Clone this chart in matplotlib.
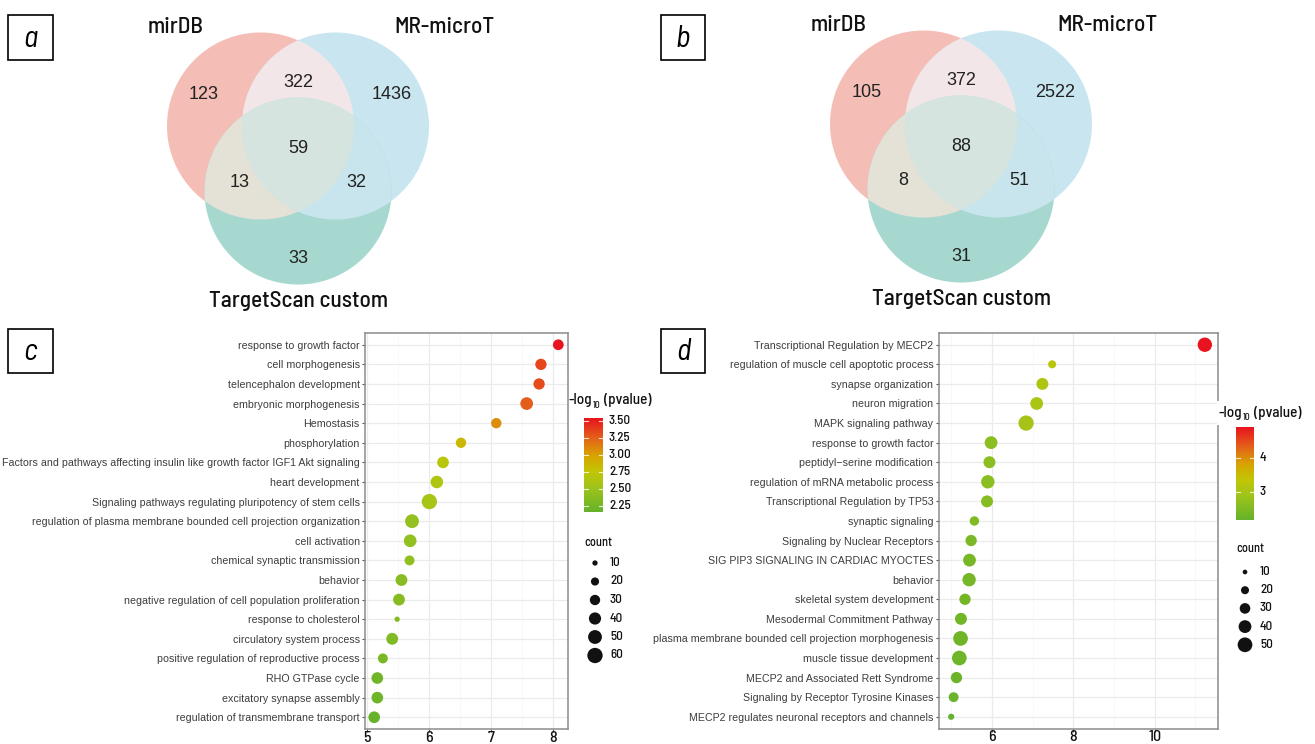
import os
import numpy as np
import matplotlib.pyplot as plt
from matplotlib import font_manager as fm
from matplotlib.colors import LinearSegmentedColormap, Normalize
from matplotlib.patches import Polygon, Rectangle

W, H = 1315, 744

# ---- data ----
venn_names = ["mirDB", "MR-microT", "TargetScan custom"]
# order: only A, A&B, only B, A&B&C, A&C, B&C, only C
venn_a = [123, 322, 1436, 59, 13, 32, 33]
venn_b = [105, 372, 2522, 88, 8, 51, 31]

c_terms = ["response to growth factor", "cell morphogenesis", "telencephalon development",
           "embryonic morphogenesis", "Hemostasis", "phosphorylation",
           "Factors and pathways affecting insulin like growth factor IGF1 Akt signaling",
           "heart development", "Signaling pathways regulating pluripotency of stem cells",
           "regulation of plasma membrane bounded cell projection organization",
           "cell activation", "chemical synaptic transmission", "behavior",
           "negative regulation of cell population proliferation", "response to cholesterol",
           "circulatory system process", "positive regulation of reproductive process",
           "RHO GTPase cycle", "excitatory synapse assembly",
           "regulation of transmembrane transport"]
c_x = [8.09, 7.81, 7.78, 7.58, 7.09, 6.52, 6.23, 6.13, 6.01, 5.73,
       5.70, 5.69, 5.56, 5.52, 5.49, 5.41, 5.26, 5.17, 5.17, 5.12]
c_p = [3.54, 3.35, 3.33, 3.26, 3.08, 2.85, 2.70, 2.62, 2.57, 2.45,
       2.43, 2.42, 2.37, 2.36, 2.34, 2.32, 2.27, 2.22, 2.21, 2.16]
c_n = [32, 35, 35, 43, 30, 30, 37, 42, 60, 50,
       43, 28, 38, 38, 10, 38, 28, 37, 37, 37]

d_terms = ["Transcriptional Regulation by MECP2", "regulation of muscle cell apoptotic process",
           "synapse organization", "neuron migration", "MAPK signaling pathway",
           "response to growth factor", "peptidyl\u2212serine modification",
           "regulation of mRNA metabolic process", "Transcriptional Regulation by TP53",
           "synaptic signaling", "Signaling by Nuclear Receptors",
           "SIG PIP3 SIGNALING IN CARDIAC MYOCTES", "behavior", "skeletal system development",
           "Mesodermal Commitment Pathway",
           "plasma membrane bounded cell projection morphogenesis",
           "muscle tissue development", "MECP2 and Associated Rett Syndrome",
           "Signaling by Receptor Tyrosine Kinases",
           "MECP2 regulates neuronal receptors and channels"]
d_x = [11.23, 7.48, 7.24, 7.10, 6.84, 5.98, 5.94, 5.90, 5.88, 5.57,
       5.49, 5.45, 5.44, 5.34, 5.24, 5.23, 5.20, 5.13, 5.06, 5.00]
d_p = [4.91, 3.22, 3.10, 3.05, 2.98, 2.65, 2.63, 2.62, 2.60, 2.50,
       2.42, 2.40, 2.38, 2.35, 2.32, 2.30, 2.28, 2.25, 2.22, 2.18]
d_n = [48, 20, 36, 40, 53, 40, 36, 43, 36, 25,
       33, 40, 43, 33, 36, 50, 50, 33, 27, 14]

c_xticks = [5, 6, 7, 8]
d_xticks = [6, 8, 10]
c_cbar_ticks = [2.25, 2.50, 2.75, 3.00, 3.25, 3.50]
d_cbar_ticks = [3, 4]
c_count_breaks = [10, 20, 30, 40, 50, 60]
d_count_breaks = [10, 20, 30, 40, 50]

cmap = LinearSegmentedColormap.from_list('gr', [
    (0.0, '#67B22B'), (0.25, '#9DC41C'), (0.43, '#C2C606'),
    (0.6, '#D8A400'), (0.78, '#E3651A'), (1.0, '#E8131E')])

# ---- fonts: a DIN-like condensed face for headings, an Arial-like face for the rest ----
font_files = {os.path.basename(f.fname): f.fname for f in fm.fontManager.ttflist}


def find_font(cands, family):
    for c in cands:
        if c in font_files:
            return dict(fname=font_files[c])
    return dict(family=family)


COND = find_font(['BarlowSemiCondensed-Medium.ttf', 'BarlowCondensed-Medium.ttf',
                  'BarlowSemiCondensed-Regular.ttf', 'RobotoCondensed-Medium.ttf',
                  'FiraSansCondensed-Regular.ttf', 'LiberationSansNarrow-Regular.ttf'],
                 'DejaVu Sans')
COND_IT = find_font(['BarlowSemiCondensed-Italic.ttf', 'BarlowSemiCondensed-MediumItalic.ttf',
                     'BarlowCondensed-Italic.ttf', 'RobotoCondensed-Italic.ttf',
                     'FiraSansCondensed-Italic.ttf', 'LiberationSansNarrow-Italic.ttf'],
                    'DejaVu Sans')
ARIAL = find_font(['LiberationSans-Regular.ttf', 'Arimo-Regular.ttf', 'Arimo[wght].ttf'],
                  'Liberation Sans')


def fp(base, size, **kw):
    return fm.FontProperties(size=size, **base, **kw)


fig = plt.figure(figsize=(W / 100, H / 100), dpi=100)
renderer = fig.canvas.get_renderer()


def diam(n, fit):
    return fit[0] + fit[1] * np.sqrt(np.asarray(n, float))


def dotplot(box, terms, xs, ps, ns, fit, xticks, minors):
    l, r, t, b = box
    ax = fig.add_axes([l / W, 1 - b / H, (r - l) / W, (b - t) / H])
    y = np.arange(len(terms))
    norm = Normalize(min(ps), max(ps))
    ax.scatter(xs, y, s=(diam(ns, fit) * 0.72) ** 2, c=ps, cmap=cmap, norm=norm,
               linewidths=0, zorder=3)
    span = max(xs) - min(xs)
    ax.set_xlim(min(xs) - 0.05 * span, max(xs) + 0.05 * span)
    ax.set_ylim(len(terms) - 1 + 0.6, -0.6)
    ax.set_yticks(y)
    ax.set_yticklabels(terms, fontproperties=fp(ARIAL, 7.7), color='#3d3d3d')
    ax.set_xticks(xticks)
    ax.set_xticklabels([str(v) for v in xticks], fontproperties=fp(COND, 11.5),
                       color='#111111')
    for lbl in ax.get_xticklabels():
        lbl.set_verticalalignment('baseline')
    ax.set_xticks(minors, minor=True)
    ax.grid(which='major', color='#ebebeb', lw=0.9, zorder=0)
    ax.grid(which='minor', axis='x', color='#f5f5f5', lw=0.5, zorder=0)
    ax.set_axisbelow(True)
    ax.tick_params(which='major', length=2.2, width=0.8, color='#555555', pad=1.5)
    ax.tick_params(axis='x', which='major', pad=6.8)
    ax.tick_params(which='minor', length=0)
    for s in ax.spines.values():
        s.set_color('#8c8c8c')
        s.set_linewidth(1.1)
    return ax


dotplot((365, 567.5, 333, 729), c_terms, c_x, c_p, c_n, (-1.6, 2.18), c_xticks, [5.5, 6.5, 7.5])
dotplot((938.5, 1217.5, 333, 728.5), d_terms, d_x, d_p, d_n, (-3.4, 2.56), d_xticks, [5, 7, 9, 11])

# overlay axes in pixel units (y downwards) for venns, tags and legends
ov = fig.add_axes([0, 0, 1, 1])
ov.set_xlim(0, W)
ov.set_ylim(H, 0)
ov.axis('off')
ov.patch.set_visible(False)
ov.set_zorder(10)


def text_width(s, prop):
    t = ov.text(0, 0, s, fontproperties=prop)
    w = t.get_window_extent(renderer).width
    t.remove()
    return w


def fitted(base, s, width, size0=12):
    return fp(base, size0 * width / text_width(s, fp(base, size0)))


def region(centers, r, n=1440):
    th = np.linspace(0, 2 * np.pi, n, endpoint=False)
    pts = []
    for cx, cy in centers:
        p = np.column_stack([cx + r * np.cos(th), cy + r * np.sin(th)])
        ok = np.ones(len(p), bool)
        for ox, oy in centers:
            ok &= (p[:, 0] - ox) ** 2 + (p[:, 1] - oy) ** 2 <= r * r + 1e-6
        pts.append(p[ok])
    pts = np.vstack(pts)
    m = pts.mean(0)
    return pts[np.argsort(np.arctan2(pts[:, 1] - m[1], pts[:, 0] - m[0]))]


name_fp = fitted(COND, venn_names[2], 180)


def venn(ox, oy, counts, r=93.5):
    A, B, C = (ox - 37.5, oy), (ox + 37.5, oy), (ox, oy + 65)
    fills = [([A], '#f4beb6'), ([B], '#c9e6f0'), ([C], '#a7d8d0'),
             ([A, B], '#f3e6e8'), ([A, C], '#e4e1d6'), ([B, C], '#c8e5ed'),
             ([A, B, C], '#d6e4df')]
    for cs, col in fills:
        ov.add_patch(Polygon(region(cs, r), closed=True, fc=col, ec='none', lw=0))
    spots = [(-94, -27), (0, -39), (94, -27), (0, 27), (-58, 61), (58, 61), (0, 137)]
    for (dx, dy), v in zip(spots, counts):
        ov.text(ox + dx, oy + dy, str(v), ha='center', va='baseline',
                fontproperties=fp(ARIAL, 13), color='#222222')
    for (dx, dy), name in zip([(-122, -93), (146, -93), (1, 181)], venn_names):
        ov.text(ox + dx, oy + dy, name, ha='center', va='baseline', fontproperties=name_fp,
                color='#111111')


venn(298, 126, venn_a)
venn(961, 124, venn_b)

for (x0, y0, x1, y1), letter in zip([(8, 15, 53, 60), (661, 15, 705, 60),
                                     (8, 329, 53, 373), (661, 329, 705, 373)], 'abcd'):
    ov.add_patch(Rectangle((x0, y0), x1 - x0, y1 - y0, fill=False, ec='black', lw=1.2))
    ov.text((x0 + x1) / 2, y1 - 13, letter, ha='center', va='baseline',
            fontproperties=fp(COND_IT, 22), color='black')

lab_fp = fitted(COND, '3.50', 22)
count_fp = fitted(COND, 'count', 28)
title_fp = fitted(COND, '-log (pvalue)', 74)
sub_fp = fp(COND, title_fp.get_size() * 0.62)


def title(x, yb, white=False):
    t1 = ov.text(x, yb, '-log', ha='left', va='baseline', fontproperties=title_fp,
                 color='#111111', zorder=3)
    x2 = t1.get_window_extent(renderer).x1 + 0.5
    t2 = ov.text(x2, yb + 3.5, '10', ha='left', va='baseline', fontproperties=sub_fp,
                 color='#111111', zorder=3)
    x3 = t2.get_window_extent(renderer).x1
    t3 = ov.text(x3, yb, ' (pvalue)', ha='left', va='baseline', fontproperties=title_fp,
                 color='#111111', zorder=3)
    if white:
        x4 = t3.get_window_extent(renderer).x1
        ov.add_patch(Rectangle((x - 2, yb - 16), x4 - x + 4, 24, fc='white', ec='none',
                               zorder=2))


def legends(tx, tyb, bar, ps, ticks, fmt, cx, cy_title, cy0, breaks, fit, step, white=False):
    title(tx, tyb, white)
    x0, x1, y0, y1 = bar
    lo, hi = min(ps), max(ps)
    grad = np.linspace(hi, lo, 200)[:, None]
    ov.imshow(grad, cmap=cmap, vmin=lo, vmax=hi, extent=(x0, x1, y1, y0), aspect='auto',
              interpolation='bilinear')
    for v in ticks:
        yy = y1 - (v - lo) / (hi - lo) * (y1 - y0)
        ov.plot([x0, x0 + 4], [yy, yy], color='white', lw=0.8, alpha=0.8)
        ov.plot([x1 - 4, x1], [yy, yy], color='white', lw=0.8, alpha=0.8)
        ov.text(x1 + 6, yy, fmt.format(v), ha='left', va='center', fontproperties=lab_fp,
                color='#111111')
    ov.text(x0, cy_title, 'count', ha='left', va='center', fontproperties=count_fp,
            color='#111111')
    ys = cy0 + step * np.arange(len(breaks))
    ov.scatter([cx] * len(breaks), ys, s=(diam(breaks, fit) * 0.72) ** 2, c='#111111',
               linewidths=0)
    for yy, v in zip(ys, breaks):
        ov.text(cx + 15, yy, str(v), ha='left', va='center', fontproperties=lab_fp,
                color='#111111')


legends(569, 404, (584, 603, 418, 512), c_p, c_cbar_ticks, '{:.2f}', 595, 543, 563,
        c_count_breaks, (-1.6, 2.18), 18.5)
legends(1219, 417, (1236, 1254, 427, 520), d_p, d_cbar_ticks, '{:g}', 1245, 549, 572,
        d_count_breaks, (-3.4, 2.56), 18.2, white=True)
ov.set_xlim(0, W)
ov.set_ylim(H, 0)

fig.savefig('out.png', dpi=100)
